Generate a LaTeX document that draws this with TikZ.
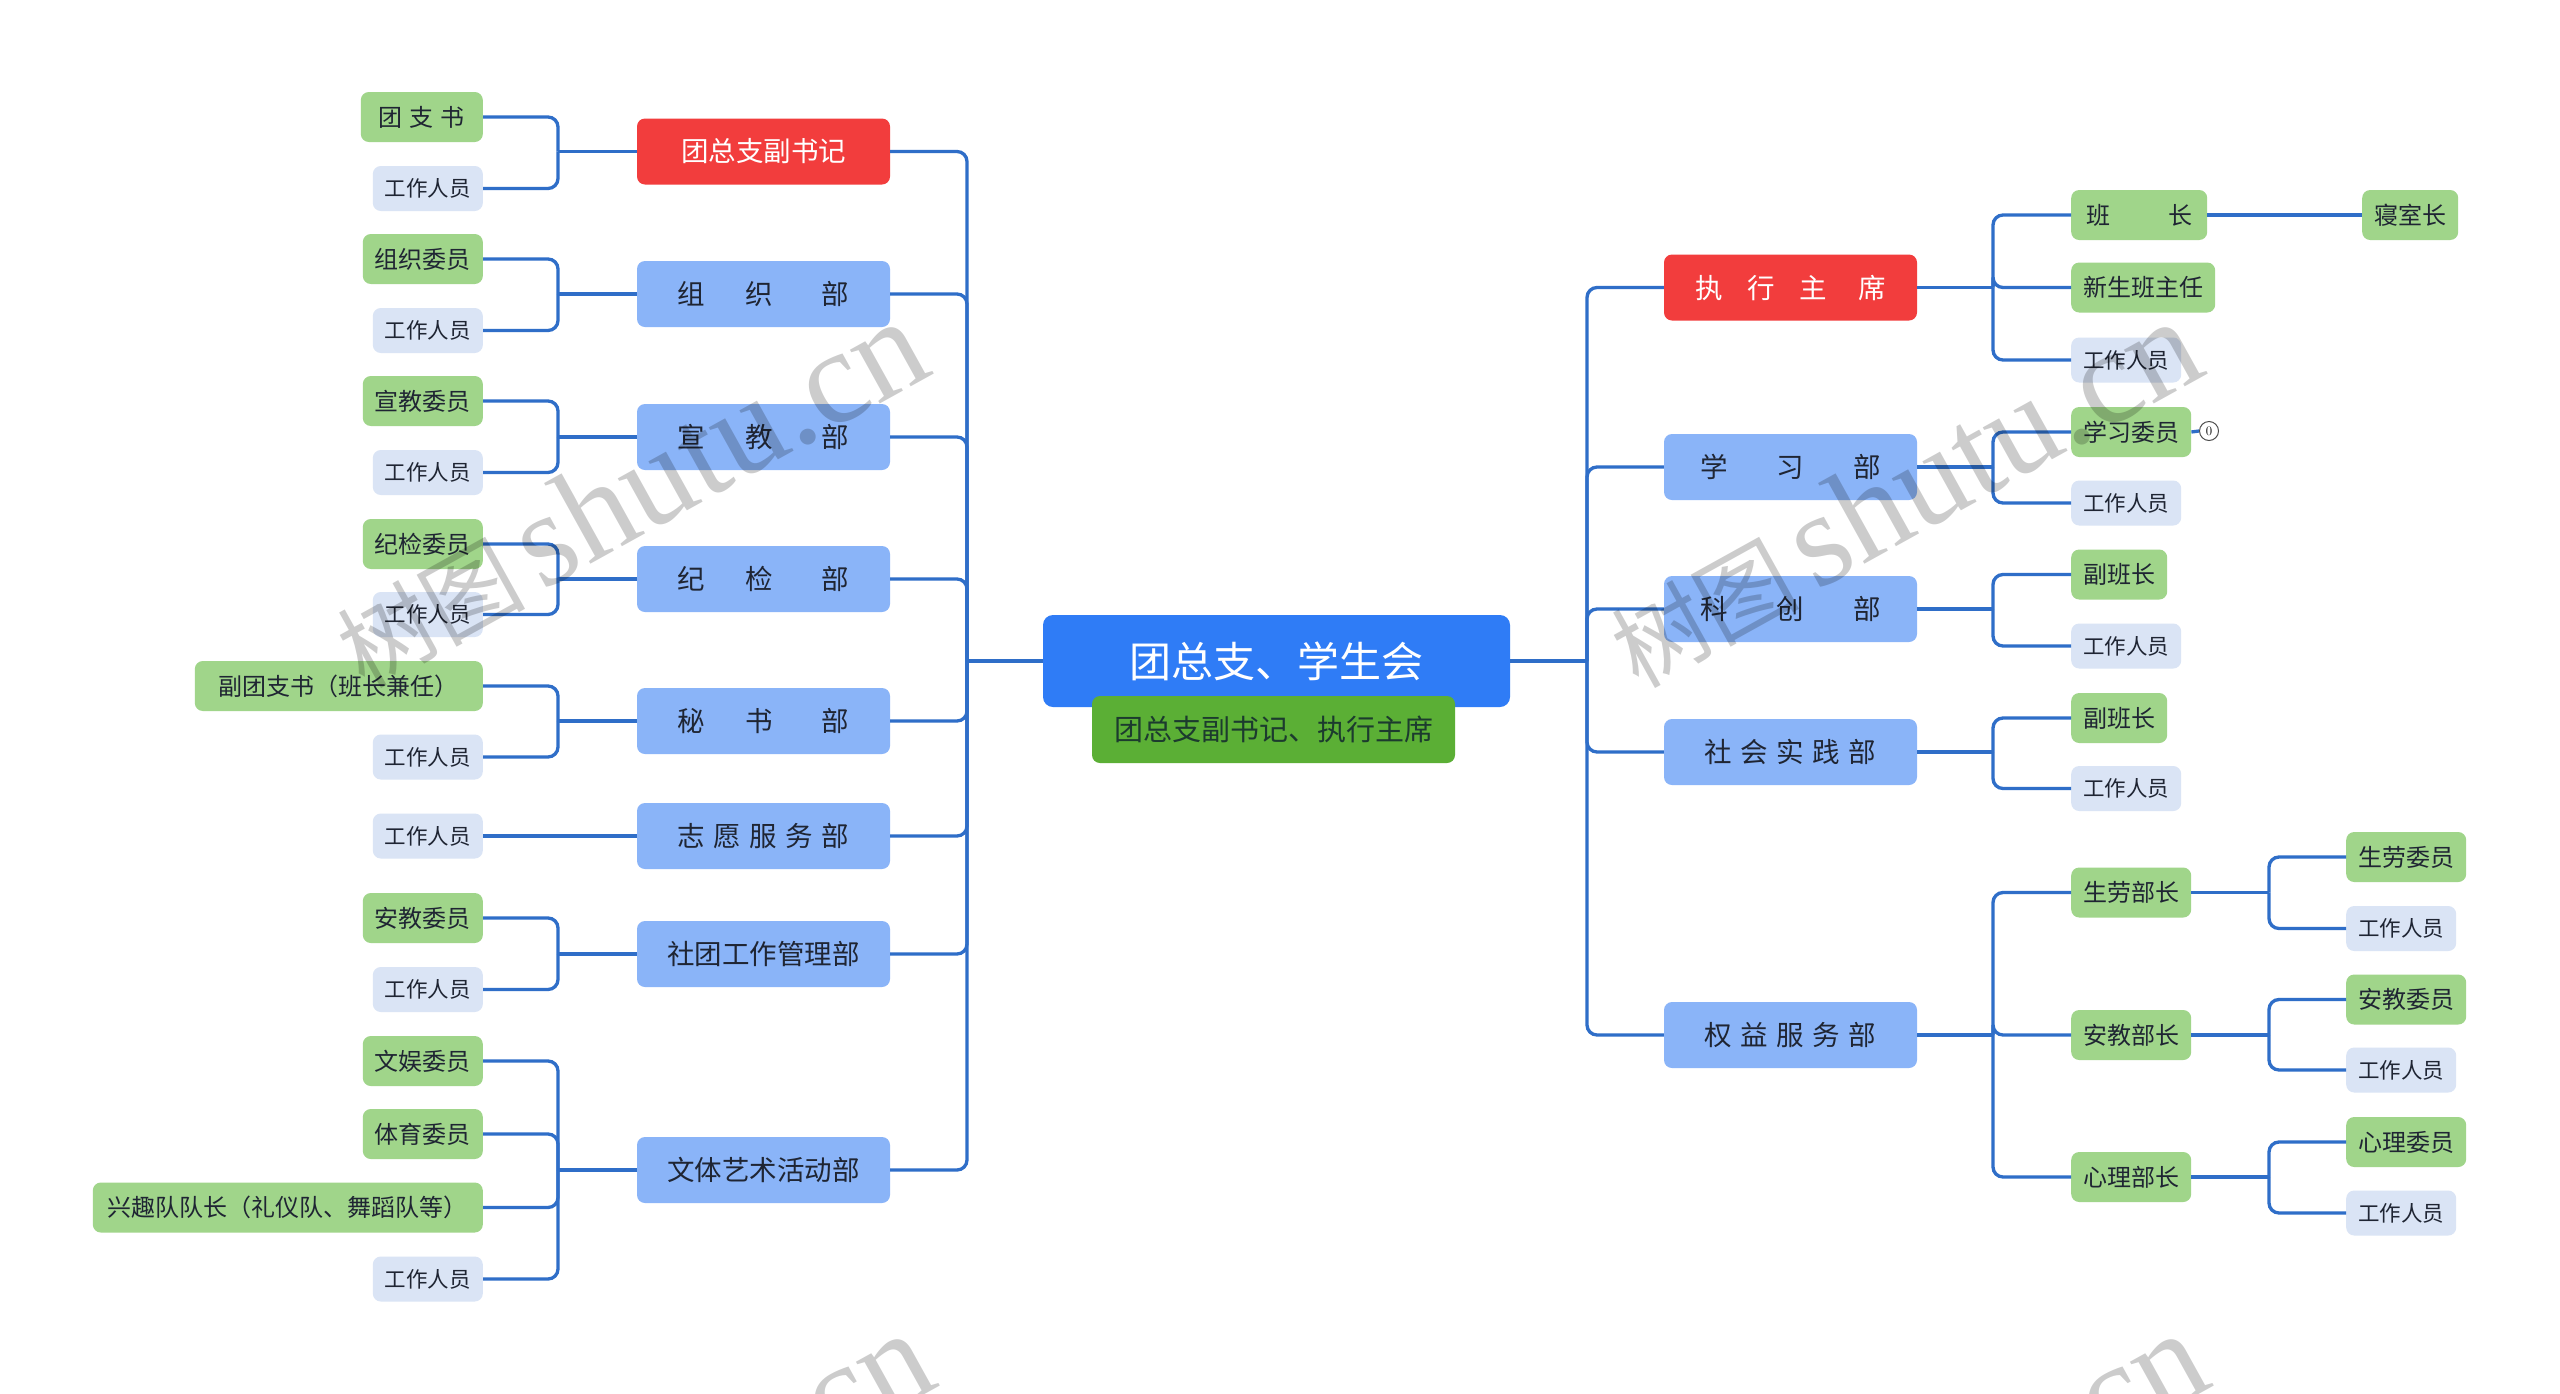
\documentclass[tikz,border=0pt]{standalone}
\usepackage{fontspec}
\newfontfamily\cjk{Noto Sans CJK SC}
\newfontfamily\wmserif{Liberation Serif}
\definecolor{linec}{HTML}{2F6EC8}
\definecolor{rootc}{HTML}{2F7CF6}
\definecolor{subc}{HTML}{5BAF35}
\definecolor{redc}{HTML}{F23D3D}
\definecolor{deptc}{HTML}{8AB4F8}
\definecolor{greenc}{HTML}{A0D58A}
\definecolor{grayc}{HTML}{DAE4F5}
\definecolor{txt}{HTML}{1F2533}
\tikzset{
 conn/.style={draw=linec, line width=3.3pt, rounded corners=10pt},
 box/.style={rounded corners=8pt, inner xsep=12pt, inner ysep=0pt, align=center},
 dept/.style={box, fill=deptc, text=txt, minimum width=253pt, minimum height=66pt, font=\cjk\fontsize{27.5}{30}\selectfont},
 deptr/.style={dept, fill=redc, text=white},
 lg/.style={box, fill=greenc, text=txt, minimum height=50pt, font=\cjk\fontsize{24}{26}\selectfont},
 lw/.style={box, fill=grayc, text=txt, minimum height=45pt, font=\cjk\fontsize{21.5}{24}\selectfont},
 wm/.style={text=black, opacity=0.2, inner sep=0pt},
}
\begin{document}
\begin{tikzpicture}[x=1pt,y=-1pt]
\useasboundingbox (0,0) rectangle (2560,1393);
\fill[white] (0,0) rectangle (2560,1393);

% root
\node[rounded corners=10pt, fill=rootc, text=white, minimum width=467pt, minimum height=92pt, inner sep=0pt, font=\cjk\fontsize{42}{44}\selectfont] (root) at (1276.5,661) {团总支、学生会};
\node[rounded corners=8pt, fill=subc, text=txt!90!green, minimum width=363pt, minimum height=67pt, inner sep=0pt, font=\cjk\fontsize{29}{31}\selectfont] (sub) at (1273.5,729.5) {团总支副书记、执行主席};

% left departments
\node[deptr] (L1) at (763.5,151.5) {团总支副书记};
\node[dept] (L2) at (763.5,294) {组\hspace{40pt}织\hspace{49pt}部};
\node[dept] (L3) at (763.5,437) {宣\hspace{40pt}教\hspace{49pt}部};
\node[dept] (L4) at (763.5,579) {纪\hspace{40pt}检\hspace{49pt}部};
\node[dept] (L5) at (763.5,721) {秘\hspace{40pt}书\hspace{49pt}部};
\node[dept] (L6) at (763.5,836) {志\hspace{8.5pt}愿\hspace{8.5pt}服\hspace{8.5pt}务\hspace{8.5pt}部};
\node[dept] (L7) at (763.5,954) {社团工作管理部};
\node[dept] (L8) at (763.5,1170) {文体艺术活动部};

% left leaves
\node[lg, anchor=east, minimum width=122pt] (L1a) at (483,117) {团\hspace{7pt}支\hspace{7pt}书};
\node[lw, anchor=east] (L1b) at (483,188.5) {工作人员};
\node[lg, anchor=east] (L2a) at (483,259) {组织委员};
\node[lw, anchor=east] (L2b) at (483,330.5) {工作人员};
\node[lg, anchor=east] (L3a) at (483,401) {宣教委员};
\node[lw, anchor=east] (L3b) at (483,472.5) {工作人员};
\node[lg, anchor=east] (L4a) at (483,544) {纪检委员};
\node[lw, anchor=east] (L4b) at (483,614.5) {工作人员};
\node[lg, anchor=east, minimum width=288pt] (L5a) at (483,686) {副团支书（班长兼任）};
\node[lw, anchor=east] (L5b) at (483,757) {工作人员};
\node[lw, anchor=east] (L6a) at (483,836) {工作人员};
\node[lg, anchor=east] (L7a) at (483,918) {安教委员};
\node[lw, anchor=east] (L7b) at (483,989.5) {工作人员};
\node[lg, anchor=east] (L8a) at (483,1061) {文娱委员};
\node[lg, anchor=east] (L8b) at (483,1134) {体育委员};
\node[lg, anchor=east, minimum width=390pt] (L8c) at (483,1207.5) {兴趣队队长（礼仪队、舞蹈队等）};
\node[lw, anchor=east] (L8d) at (483,1279) {工作人员};

% right departments
\node[deptr] (R1) at (1790.5,287.5) {执\hspace{24.5pt}行\hspace{24.5pt}主\hspace{31.5pt}席};
\node[dept] (R2) at (1790.5,467) {学\hspace{49pt}习\hspace{49pt}部};
\node[dept] (R3) at (1790.5,609) {科\hspace{49pt}创\hspace{49pt}部};
\node[dept] (R4) at (1790.5,752) {社\hspace{8.5pt}会\hspace{8.5pt}实\hspace{8.5pt}践\hspace{8.5pt}部};
\node[dept] (R5) at (1790.5,1035) {权\hspace{8.5pt}益\hspace{8.5pt}服\hspace{8.5pt}务\hspace{8.5pt}部};

% right leaves
\node[lg, anchor=west, minimum width=136pt] (R1a) at (2071,215) {班\hspace{58pt}长};
\node[lg, anchor=west] (R1a1) at (2362,215) {寝室长};
\node[lg, anchor=west] (R1b) at (2071,287.5) {新生班主任};
\node[lw, anchor=west] (R1c) at (2071,360) {工作人员};
\node[lg, anchor=west] (R2a) at (2071,432) {学习委员};
\node[lw, anchor=west] (R2b) at (2071,503) {工作人员};
\node[lg, anchor=west] (R3a) at (2071,574.5) {副班长};
\node[lw, anchor=west] (R3b) at (2071,646) {工作人员};
\node[lg, anchor=west] (R4a) at (2071,718) {副班长};
\node[lw, anchor=west] (R4b) at (2071,788.5) {工作人员};
\node[lg, anchor=west] (R5a) at (2071,892.5) {生劳部长};
\node[lg, anchor=west] (R5b) at (2071,1035) {安教部长};
\node[lg, anchor=west] (R5c) at (2071,1177) {心理部长};
\node[lg, anchor=west] (R5a1) at (2346,857) {生劳委员};
\node[lw, anchor=west] (R5a2) at (2346,928.5) {工作人员};
\node[lg, anchor=west] (R5b1) at (2346,999.5) {安教委员};
\node[lw, anchor=west] (R5b2) at (2346,1070) {工作人员};
\node[lg, anchor=west] (R5c1) at (2346,1142) {心理委员};
\node[lw, anchor=west] (R5c2) at (2346,1213) {工作人员};
\node[circle, draw=black!70, fill=white, line width=1pt, minimum size=19pt, inner sep=0pt, font=\fontsize{13}{13}\selectfont] (c0) at (2209,431) {0};

% trunk coordinates
\coordinate (tl) at (967,661);
\coordinate (tr) at (1587,661);
\draw[conn] (root.west) -- (tl);
\draw[conn] (root.east) -- (tr);
\foreach \d in {L1,L2,L3,L4,L5,L6,L7,L8} {\draw[conn] (tl) |- (\d.east);}
\foreach \d in {R1,R2,R3,R4,R5} {\draw[conn] (tr) |- (\d.west);}

% left forks
\coordinate (fL1) at (558,151.5);
\coordinate (fL2) at (558,294);
\coordinate (fL3) at (558,437);
\coordinate (fL4) at (558,579);
\coordinate (fL5) at (558,721);
\coordinate (fL7) at (558,954);
\coordinate (fL8) at (558,1170);
\foreach \d in {L1,L2,L3,L4,L5,L7} {
  \draw[conn] (\d.west) -- (f\d);
  \draw[conn] (f\d) |- (\d a.east);
  \draw[conn] (f\d) |- (\d b.east);
}
\draw[conn] (L6.west) -- (L6a.east);
\draw[conn] (L8.west) -- (fL8);
\foreach \c in {a,b,c,d} {\draw[conn] (fL8) |- (L8\c.east);}

% right forks
\coordinate (fR1) at (1993,287.5);
\coordinate (fR2) at (1993,467);
\coordinate (fR3) at (1993,609);
\coordinate (fR4) at (1993,752);
\coordinate (fR5) at (1993,1035);
\draw[conn] (R1.east) -- (fR1);
\foreach \c in {a,b,c} {\draw[conn] (fR1) |- (R1\c.west);}
\foreach \d in {R2,R3,R4} {
  \draw[conn] (\d.east) -- (f\d);
  \draw[conn] (f\d) |- (\d a.west);
  \draw[conn] (f\d) |- (\d b.west);
}
\draw[conn] (R5.east) -- (fR5);
\foreach \c in {a,b,c} {\draw[conn] (fR5) |- (R5\c.west);}
\draw[conn] (R1a.east) -- (R1a1.west);
\draw[conn] (R2a.east) -- (c0.west);

\coordinate (gR5a) at (2269,892.5);
\coordinate (gR5b) at (2269,1035);
\coordinate (gR5c) at (2269,1177);
\foreach \c in {a,b,c} {
  \draw[conn] (R5\c.east) -- (gR5\c);
  \draw[conn] (gR5\c) |- (R5\c 1.west);
  \draw[conn] (gR5\c) |- (R5\c 2.west);
}

% watermarks
\begin{scope}
\clip (0,0) rectangle (2560,1393);
\foreach \wx/\wy [count=\i] in {364/690,1638/690,370/1702,1644/1702} {
  \node[wm, anchor=base west, rotate=29] (wm\i) at (\wx,\wy) {{\cjk\fontsize{94}{94}\selectfont 树图}\hspace{16pt}{\wmserif\fontsize{134}{134}\selectfont shutu.cn}};
}
\end{scope}
\end{tikzpicture}
\end{document}
